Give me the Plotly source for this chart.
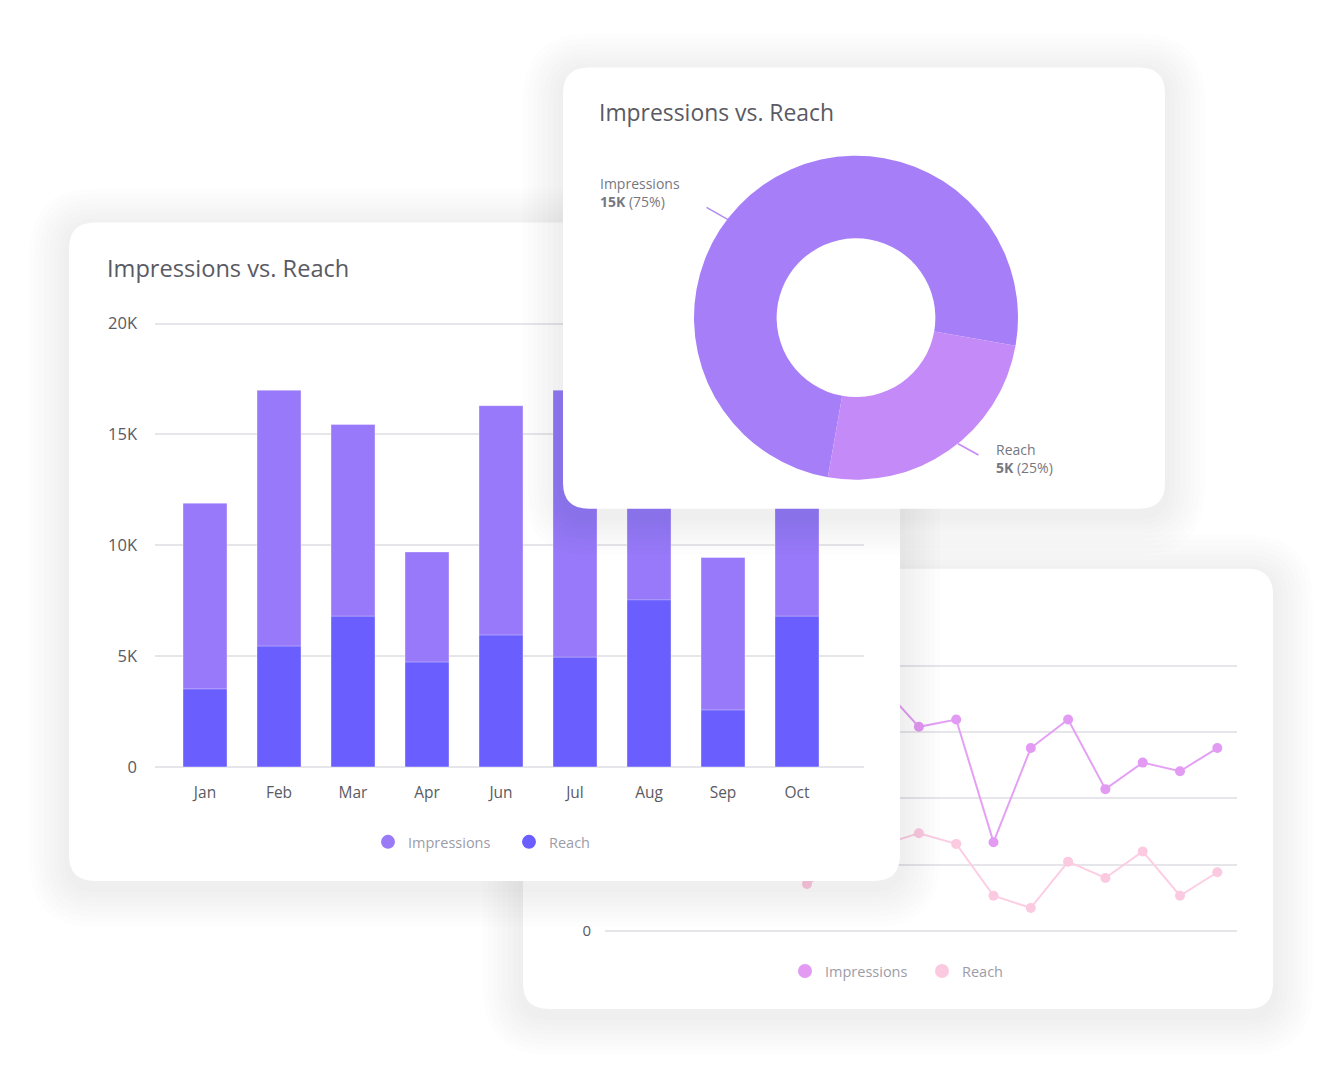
import plotly.graph_objects as go

W, H = 1343, 1080
FONT = "Open Sans"
# the capture squeezes the page slightly in height; positions below are given in
# reference pixels and converted with this inverse mapping
YS, YO = 0.993, 2.5

# ---------------- data ----------------
bar_months = ['Jan', 'Feb', 'Mar', 'Apr', 'Jun', 'Jul', 'Aug', 'Sep', 'Oct']
bar_impressions = [11900, 17000, 15450, 9700, 16300, 17000, 13600, 9450, 14200]
bar_reach = [3520, 5450, 6800, 4730, 5950, 4950, 7540, 2570, 6800]
bar_tickvals = [0, 5000, 10000, 15000, 20000]
bar_ticktext = ['0', '5K', '10K', '15K', '20K']

donut_labels = ['Impressions', 'Reach']
donut_values = [15000, 5000]

line_points = ['1', '2', '3', '4', '5', '6', '7', '8', '9', '10', '11', '12', '13', '14', '15', '16', '17']
line_impressions = [14200, 16800, 12500, 17600, 13100, 15800, 11900, 18500, 15400,
                    15950, 6700, 13800, 15950, 10700, 12700, 12050, 13800]
line_reach = [6200, 7500, 5800, 8100, 6900, 3550, 5100, 6500, 7370,
              6570, 2660, 1740, 5230, 4000, 6000, 2660, 4430]
line_tickvals = [0, 5000, 10000, 15000, 20000]
line_ticktext = ['0', '', '', '', '']   # only "0" is visible; the rest sit behind the bar card

# ---------------- styles / geometry ----------------
C_BAR_IMP = '#9879F9'
C_BAR_REACH = '#6A5FFE'
C_DONUT = ['#A67FF8', '#C48AF7']
C_LINE_IMP = '#E4A0F5'
C_LINE_REACH = '#FCCDE3'
GRID = '#E6E6EA'
TXT = '#5A5A64'
LEG_TXT = '#9C9CA8'

LINE_CARD = (523, 570, 1273, 1010)
BAR_CARD = (69, 224, 900, 882)
DONUT_CARD = (563, 69, 1165, 510)
MARGIN = 50
RADIUS = 26


def fx(px):
    return px / W


def fy(py):
    return 1 - ((py - YO) / YS) / H


def rrect(x0, y0, x1, y1, r):
    return (f"M{x0 + r},{y0} L{x1 - r},{y0} Q{x1},{y0} {x1},{y0 + r} "
            f"L{x1},{y1 - r} Q{x1},{y1} {x1 - r},{y1} L{x0 + r},{y1} "
            f"Q{x0},{y1} {x0},{y1 - r} L{x0},{y0 + r} Q{x0},{y0} {x0 + r},{y0} Z")


def axname(n, a):
    return a if n == 1 else f"{a}{n}"


def card_axes(n, card):
    x0, y0, x1, y1 = card
    xa = dict(domain=[fx(x0 - MARGIN), fx(x1 + MARGIN)], range=[x0 - MARGIN, x1 + MARGIN],
              visible=False, fixedrange=True, anchor=axname(n, 'y'))
    ya = dict(domain=[fy(y1 + MARGIN), fy(y0 - MARGIN)], range=[y1 + MARGIN, y0 - MARGIN],
              visible=False, fixedrange=True, anchor=axname(n, 'x'))
    return xa, ya


def card_shapes(n, card):
    x0, y0, x1, y1 = card
    xr, yr = axname(n, 'x'), axname(n, 'y')
    shp = []
    for k in range(1, 9):
        s = 5 * k
        shp.append(dict(type='path', path=rrect(x0 - s, y0 - s + 6, x1 + s, y1 + s + 6, RADIUS + s),
                        xref=xr, yref=yr, layer='below', fillcolor='rgba(30,30,60,0.006)',
                        line=dict(width=0)))
    shp.append(dict(type='path', path=rrect(x0, y0, x1, y1, RADIUS), xref=xr, yref=yr,
                    layer='below', fillcolor='white', line=dict(width=0)))
    return shp


def dummy(n):
    return go.Scatter(x=[None], y=[None], xaxis=axname(n, 'x'), yaxis=axname(n, 'y'),
                      showlegend=False, hoverinfo='skip', mode='markers')


fig = go.Figure()

# 1: line card background
fig.add_trace(dummy(1))

# 2: line chart
fig.add_trace(go.Scatter(x=line_points, y=line_impressions, mode='lines+markers', xaxis='x2', yaxis='y2',
                         line=dict(color=C_LINE_IMP, width=2), marker=dict(size=10, color='#E29AF3'),
                         showlegend=False, hoverinfo='skip'))
fig.add_trace(go.Scatter(x=line_points, y=line_reach, mode='lines+markers', xaxis='x2', yaxis='y2',
                         line=dict(color=C_LINE_REACH, width=2), marker=dict(size=10, color='#FBC9E0'),
                         showlegend=False, hoverinfo='skip'))
fig.add_trace(go.Scatter(x=[None], y=[None], mode='markers', xaxis='x2', yaxis='y2', name='Impressions',
                         marker=dict(size=14, color='#E29AF3'), legend='legend2', hoverinfo='skip'))
fig.add_trace(go.Scatter(x=[None], y=[None], mode='markers', xaxis='x2', yaxis='y2', name='Reach',
                         marker=dict(size=14, color='#FBC9E0'), legend='legend2', hoverinfo='skip'))

# 3: bar card background
fig.add_trace(dummy(3))

# 4: bar chart
fig.add_trace(go.Bar(x=bar_months, y=bar_impressions, xaxis='x4', yaxis='y4', showlegend=False,
                     marker=dict(color=C_BAR_IMP, line=dict(color='rgba(255,255,255,0.35)', width=1)),
                     hoverinfo='skip'))
fig.add_trace(go.Bar(x=bar_months, y=bar_reach, xaxis='x4', yaxis='y4', showlegend=False,
                     marker=dict(color=C_BAR_REACH, line=dict(color='rgba(255,255,255,0.35)', width=1)),
                     hoverinfo='skip'))
fig.add_trace(go.Scatter(x=[None], y=[None], mode='markers', xaxis='x4', yaxis='y4', name='Impressions',
                         marker=dict(size=14, color='#9B7AF8'), legend='legend', hoverinfo='skip'))
fig.add_trace(go.Scatter(x=[None], y=[None], mode='markers', xaxis='x4', yaxis='y4', name='Reach',
                         marker=dict(size=14, color=C_BAR_REACH), legend='legend', hoverinfo='skip'))

# 5: donut card background
fig.add_trace(dummy(5))

# donut
DONUT_BOX = (694, 157, 1018, 481)
fig.add_trace(go.Pie(labels=donut_labels, values=donut_values, hole=0.49, sort=False,
                     direction='clockwise', rotation=190, textinfo='none', hoverinfo='skip',
                     marker=dict(colors=C_DONUT, line=dict(width=0)), showlegend=False,
                     domain=dict(x=[fx(DONUT_BOX[0]), fx(DONUT_BOX[2])],
                                 y=[fy(DONUT_BOX[3]), fy(DONUT_BOX[1])])))

# ---------------- axes ----------------
layout_axes = {}
for n, card in [(1, LINE_CARD), (3, BAR_CARD), (5, DONUT_CARD)]:
    xa, ya = card_axes(n, card)
    layout_axes['xaxis' if n == 1 else f'xaxis{n}'] = xa
    layout_axes['yaxis' if n == 1 else f'yaxis{n}'] = ya

# line chart axes: first point at px 620.5, step 37.3; zero at 932, 13.25 px per 1000
LX0, LSTEP = 620.5, 37.3
LY0, LPX = 932, 13.25 / 1000
layout_axes['xaxis2'] = dict(domain=[fx(605), fx(1237)], type='category',
                             range=[(605 - LX0) / LSTEP, (1237 - LX0) / LSTEP],
                             showgrid=False, showticklabels=False, zeroline=False, showline=False,
                             ticks='', anchor='y2', fixedrange=True)
layout_axes['yaxis2'] = dict(domain=[fy(935), fy(660)], range=[-(935 - LY0) / LPX, (LY0 - 660) / LPX],
                             tickvals=line_tickvals, ticktext=line_ticktext, showgrid=True,
                             gridcolor=GRID, gridwidth=1.5, zeroline=True, zerolinecolor=GRID,
                             zerolinewidth=1.5, showline=False, ticks='',
                             tickfont=dict(family=FONT, size=15, color=TXT),
                             ticklabelstandoff=13, anchor='x2', fixedrange=True)

# bar chart axes: first bar centre at px 205, step 74; zero at 768, 22.15 px per 1000
BX0, BSTEP = 205, 74
BY0, BPX = 768, 22.15 / 1000
BAR_YR = [-300, 20500]
layout_axes['xaxis4'] = dict(domain=[fx(155), fx(864)], type='category',
                             range=[(155 - BX0) / BSTEP, (864 - BX0) / BSTEP],
                             showgrid=False, zeroline=False, showline=False, ticks='',
                             tickfont=dict(family=FONT, size=15.5, color=TXT),
                             ticklabelstandoff=8, anchor='y4', fixedrange=True)
layout_axes['yaxis4'] = dict(domain=[fy(BY0 - BAR_YR[0] * BPX), fy(BY0 - BAR_YR[1] * BPX)], range=BAR_YR,
                             tickvals=bar_tickvals, ticktext=bar_ticktext, showgrid=True,
                             gridcolor=GRID, gridwidth=1.5, zeroline=True, zerolinecolor=GRID,
                             zerolinewidth=1.5, showline=False, ticks='',
                             tickfont=dict(family=FONT, size=16.5, color=TXT),
                             ticklabelstandoff=17, anchor='x4', fixedrange=True)

shapes = card_shapes(1, LINE_CARD) + card_shapes(3, BAR_CARD) + card_shapes(5, DONUT_CARD)

# ---------------- annotations ----------------
total = sum(donut_values)
ann = [
    dict(text='Impressions vs. Reach', x=fx(105), y=fy(269), xref='paper', yref='paper',
         xanchor='left', yanchor='middle', showarrow=False, font=dict(family=FONT, size=23.6, color=TXT)),
    dict(text='Impressions vs. Reach', x=fx(597), y=fy(114), xref='paper', yref='paper',
         xanchor='left', yanchor='middle', showarrow=False, font=dict(family=FONT, size=22.9, color=TXT)),
]
label_pos = [(598, 173), (994, 439)]
for lab, val, (lx, ly) in zip(donut_labels, donut_values, label_pos):
    ann.append(dict(text=f"{lab}<br><b>{val / 1000:.0f}K</b> ({val / total * 100:.0f}%)",
                    x=fx(lx), y=fy(ly), xref='paper', yref='paper', xanchor='left', yanchor='top',
                    align='left', showarrow=False, font=dict(family=FONT, size=14, color='#77777F')))
# leader lines
for (hx, hy, tx, ty, col) in [(728, 221, 705, 208, '#B28CF5'), (958, 445, 980, 457, '#C48AF7')]:
    ann.append(dict(text='', x=fx(hx), y=fy(hy), xref='paper', yref='paper', ax=tx - hx, ay=(ty - hy) / YS,
                    showarrow=True, arrowhead=0, arrowwidth=1.5, arrowcolor=col))

fig.update_layout(
    width=W, height=H, autosize=False,
    margin=dict(l=0, r=0, t=0, b=0),
    paper_bgcolor='white', plot_bgcolor='rgba(0,0,0,0)',
    barmode='overlay', bargap=1 - 44 / 74,
    hovermode=False,
    shapes=shapes, annotations=ann,
    font=dict(family=FONT),
    legend=dict(orientation='h', x=fx(368), y=fy(843), xanchor='left', yanchor='middle',
                bgcolor='rgba(0,0,0,0)', font=dict(family=FONT, size=14.5, color=LEG_TXT),
                entrywidth=96, entrywidthmode='pixels', itemclick=False, itemdoubleclick=False),
    legend2=dict(orientation='h', x=fx(785), y=fy(972), xanchor='left', yanchor='middle',
                 bgcolor='rgba(0,0,0,0)', font=dict(family=FONT, size=14.5, color=LEG_TXT),
                 entrywidth=92, entrywidthmode='pixels', itemclick=False, itemdoubleclick=False),
    **layout_axes,
)

fig.write_html("out.html", config={'displayModeBar': False})
